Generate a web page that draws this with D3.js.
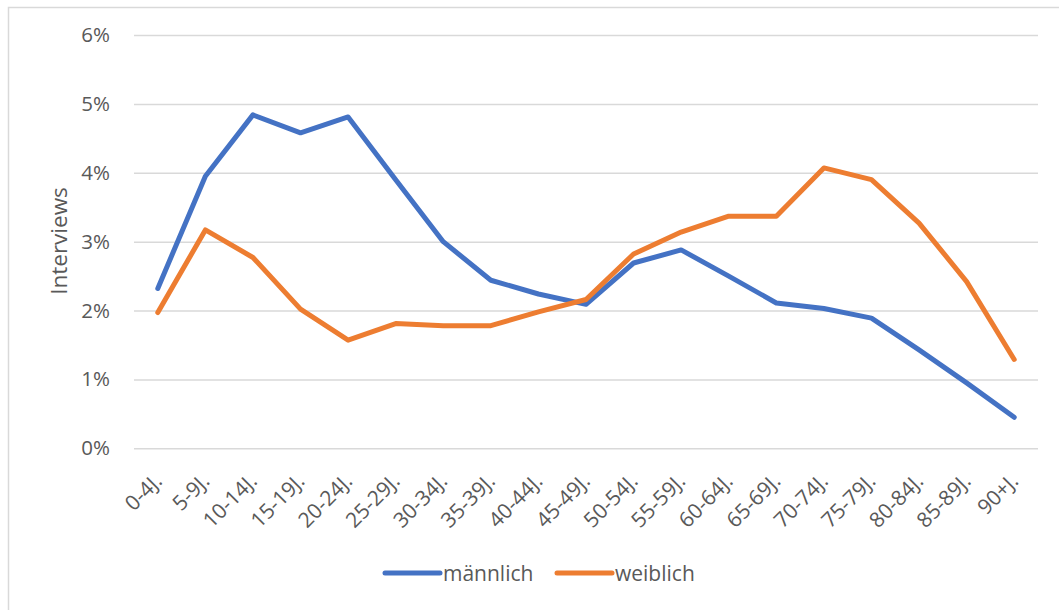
<!DOCTYPE html>
<html lang="de">
<head>
<meta charset="UTF-8">
<title>Interviews nach Alter</title>
<script src="https://d3js.org/d3.v7.min.js"></script>
<style>
  body { margin: 0; background: #fff; }
  svg text { font-family: "Open Sans", "Noto Sans", sans-serif; fill: #595959; }
</style>
</head>
<body>
<div id="chart"></div>
<script>
// age groups
const categories = ["0-4J.", "5-9J.", "10-14J.", "15-19J.", "20-24J.", "25-29J.", "30-34J.",
  "35-39J.", "40-44J.", "45-49J.", "50-54J.", "55-59J.", "60-64J.", "65-69J.", "70-74J.",
  "75-79J.", "80-84J.", "85-89J.", "90+J."];

// share of interviews (in %)
const maennlich = [2.32, 3.95, 4.84, 4.58, 4.81, 3.90, 3.00, 2.44, 2.24, 2.09, 2.69, 2.88,
  2.50, 2.11, 2.03, 1.89, 1.43, 0.95, 0.45];
const weiblich = [1.97, 3.17, 2.77, 2.02, 1.57, 1.81, 1.78, 1.78, 1.98, 2.16, 2.82, 3.14,
  3.37, 3.37, 4.07, 3.90, 3.27, 2.42, 1.29];

const yTicks = [0, 1, 2, 3, 4, 5, 6];

const seriesNames = ["männlich", "weiblich"];
const colours = ["#4472C4", "#ED7D31"];

const W = 1059, H = 610;
const plot = { left: 134, right: 1038, top: 35, bottom: 448.3 };

const svg = d3.select("#chart").append("svg")
  .attr("width", W)
  .attr("height", H);

// chart border
svg.append("rect")
  .attr("x", 8.5).attr("y", 7.5)
  .attr("width", W + 20).attr("height", H + 20)
  .attr("fill", "none")
  .attr("stroke", "#d9d9d9")
  .attr("stroke-width", 1.5);

const x = d3.scalePoint()
  .domain(categories)
  .range([plot.left, plot.right])
  .padding(0.5);

const y = d3.scaleLinear()
  .domain([0, 6])
  .range([plot.bottom, plot.top]);

// gridlines + y labels
const yAxis = svg.append("g")
  .attr("transform", `translate(${plot.left},0)`)
  .call(d3.axisLeft(y).tickValues(yTicks).tickSize(-(plot.right - plot.left))
    .tickFormat(d => d + "%").tickPadding(24));
yAxis.select(".domain").remove();
yAxis.selectAll(".tick line").attr("stroke", "#d9d9d9").attr("stroke-width", 1.5);
yAxis.selectAll(".tick text")
  .attr("font-size", 20.5)
  .attr("fill", "#595959")
  .style("font-family", "'Open Sans', sans-serif");

// x labels, rotated
const xAxis = svg.append("g")
  .attr("transform", `translate(0,${plot.bottom})`)
  .call(d3.axisBottom(x).tickSize(0).tickPadding(0));
xAxis.select(".domain").remove();
xAxis.selectAll(".tick text")
  .attr("font-size", 21)
  .attr("fill", "#595959")
  .style("font-family", "'Open Sans', sans-serif")
  .attr("text-anchor", "end")
  .attr("dy", null)
  .attr("y", 0)
  .attr("transform", "translate(5,34) rotate(-45)");

// y axis title
svg.append("text")
  .attr("transform", "translate(67,241) rotate(-90)")
  .attr("text-anchor", "middle")
  .attr("font-size", 22.5)
  .text("Interviews");

// lines
const line = d3.line()
  .x((d, i) => x(categories[i]))
  .y(d => y(d));

[maennlich, weiblich].forEach((data, i) => {
  svg.append("path")
    .datum(data)
    .attr("fill", "none")
    .attr("stroke", colours[i])
    .attr("stroke-width", 5)
    .attr("stroke-linejoin", "round")
    .attr("stroke-linecap", "round")
    .attr("d", line);
});

// legend
const legendX = [385, 557];
seriesNames.forEach((name, i) => {
  const g = svg.append("g").attr("transform", `translate(${legendX[i]},573)`);
  g.append("line")
    .attr("x1", 0).attr("x2", 55)
    .attr("stroke", colours[i])
    .attr("stroke-width", 5)
    .attr("stroke-linecap", "round");
  g.append("text")
    .attr("x", 58).attr("y", 7.5)
    .attr("font-size", 21)
    .text(name);
});
</script>
</body>
</html>
